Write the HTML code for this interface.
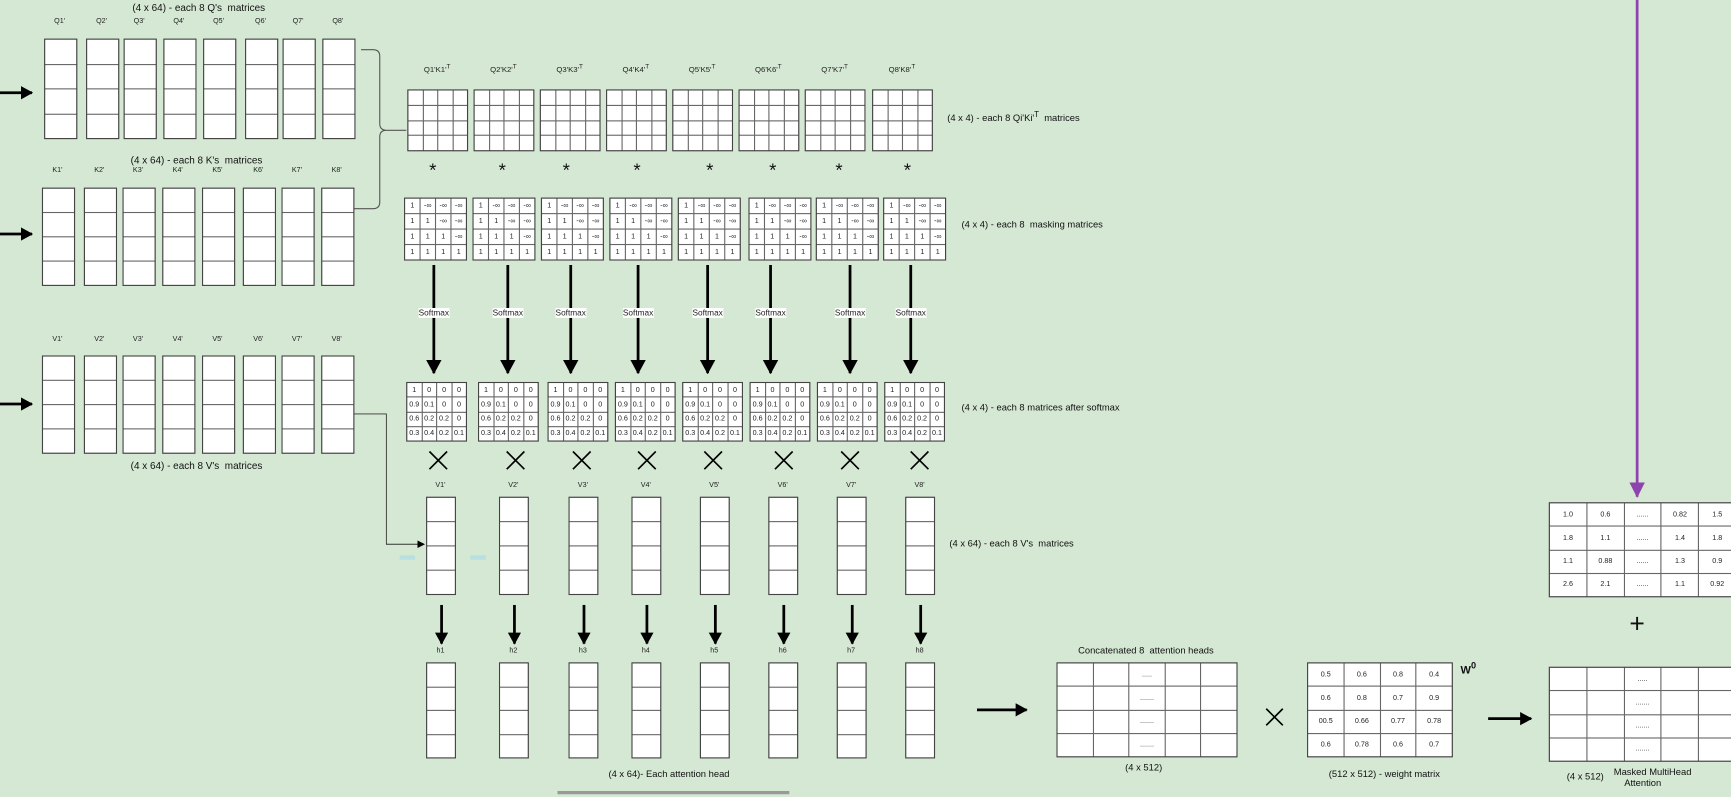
<!DOCTYPE html>
<html><head><meta charset="utf-8"><style>
html,body{margin:0;padding:0;width:1731px;height:797px;overflow:hidden;background:#d5e8d4;font-family:"Liberation Sans",sans-serif}
#w{position:absolute;left:0;top:0;width:1568px;height:722px;transform:scale(1.10395);transform-origin:0 0}
.b{position:absolute;background:#666;border:1px solid #444;box-sizing:border-box;display:grid;gap:1px}
.b div{background:#fff;font-size:6.5px;display:flex;align-items:center;justify-content:center;color:#222;overflow:hidden}
.t{position:absolute;font-size:9px;color:#111;white-space:nowrap}
.s{position:absolute;font-size:6.5px;color:#222;white-space:nowrap}
.sm{position:absolute;font-size:7.5px;color:#222;white-space:nowrap;background:#fff;line-height:9px}
svg{position:absolute;left:0;top:0}
</style></head><body><div id="w">
<svg width="1568" height="722" id="sv"><defs>
<marker id="ah" markerWidth="7" markerHeight="7" refX="6" refY="3.5" orient="auto" markerUnits="userSpaceOnUse"><path d="M0,0L7,3.5L0,7z" fill="#000"/></marker>
<marker id="ap" markerWidth="14" markerHeight="14" refX="13" refY="7" orient="auto" markerUnits="userSpaceOnUse"><path d="M0,0L14,7L0,14z" fill="#8e44ad"/></marker>
<marker id="as" markerWidth="11" markerHeight="12" refX="10" refY="6" orient="auto" markerUnits="userSpaceOnUse"><path d="M0,0L11,6L0,12z" fill="#000"/></marker>
<marker id="ab" markerWidth="13" markerHeight="14" refX="12" refY="7" orient="auto" markerUnits="userSpaceOnUse"><path d="M0,0L13,7L0,14z" fill="#000"/></marker>
</defs></svg>
</div>
<script>
var W=document.getElementById('w'),S=document.getElementById('sv');
function box(x,y,w,h,r,c,vals){var d=document.createElement('div');d.className='b';d.style.cssText+='left:'+x+'px;top:'+y+'px;width:'+w+'px;height:'+h+'px;grid-template-columns:repeat('+c+',1fr);grid-template-rows:repeat('+r+',1fr)';for(var i=0;i<r*c;i++){var e=document.createElement('div');e.textContent=vals?vals[i]:'';d.appendChild(e);}W.appendChild(d);}
function txt(x,y,s,cls,center,size){var d=document.createElement('div');d.className=cls||'t';d.innerHTML=s;d.style.left=x+'px';d.style.top=y+'px';if(center)d.style.transform='translateX(-50%)';if(size)d.style.fontSize=size+'px';W.appendChild(d);}
function ln(x1,y1,x2,y2,sw,col,m){var l=document.createElementNS('http://www.w3.org/2000/svg','line');l.setAttribute('x1',x1);l.setAttribute('y1',y1);l.setAttribute('x2',x2);l.setAttribute('y2',y2);l.setAttribute('stroke',col||'#000');l.setAttribute('stroke-width',sw||2);if(m)l.setAttribute('marker-end','url(#'+m+')');S.appendChild(l);}
function path(d,sw,col,m){var p=document.createElementNS('http://www.w3.org/2000/svg','path');p.setAttribute('d',d);p.setAttribute('fill','none');p.setAttribute('stroke',col||'#000');p.setAttribute('stroke-width',sw||1);if(m)p.setAttribute('marker-end','url(#'+m+')');S.appendChild(p);}
txt(180,2,"(4 x 64) - each 8 Q's&nbsp; matrices",'t',1);
var qx=[40,78,112,148,184,222,256,292];
qx.forEach(function(x,i){txt(x+14,16,'Q'+(i+1)+"'",'s',1);box(x,35,30,91,4,1);});
txt(178,140,"(4 x 64) - each 8 K's&nbsp; matrices",'t',1);
var kx=[38,76,111,147,183,220,255,291];
kx.forEach(function(x,i){txt(x+14,151,'K'+(i+1)+"'",'s',1);box(x,170,30,89,4,1);});
kx.forEach(function(x,i){txt(x+14,304,'V'+(i+1)+"'",'s',1);box(x,322,30,89,4,1);});
txt(178,417,"(4 x 64) - each 8 V's&nbsp; matrices",'t',1);
ln(0,84,29,84,2.5,'#000','as');ln(0,212,29,212,2.5,'#000','as');ln(0,366,29,366,2.5,'#000','as');
path('M327,45 L338,45 Q344,45 344,51 L344,112 Q344,118 350,118 L368,118 M350,118 Q344,118 344,124 L344,183 Q344,189 338,189 L320,189',1,'#555');
var qk=[369,429,489,549,609,669,729,790];
qk.forEach(function(x,i){txt(x+27,58,'Q'+(i+1)+"'K"+(i+1)+"'<sup>T</sup>",'s',1,7);box(x,81,55,56,4,4);});
txt(858,100,"(4 x 4) - each 8 Qi'Ki'<sup>T</sup>&nbsp; matrices",'t',0,8.5);
var st=[392,455,513,577,643,700,760,822];
st.forEach(function(x){txt(x,145,'*','t',1,17);});
var mk=[366,428,490,552,614,678,739,800],I='-∞';
var mv=['1',I,I,I,'1','1',I,I,'1','1','1',I,'1','1','1','1'];
mk.forEach(function(x){box(x,179,57,57,4,4,mv);});
txt(871,198,"(4 x 4) - each 8&nbsp; masking matrices",'t',0,8.5);
var sa=[393,460,517,578,641,698,770,825];
sa.forEach(function(x){ln(x,240,x,338,2.5,'#000','ab');txt(x,279,'Softmax','sm',1);});
var sm=[368,433,496,557,618,679,740,801];
var sv=['1','0','0','0','0.9','0.1','0','0','0.6','0.2','0.2','0','0.3','0.4','0.2','0.1'];
sm.forEach(function(x){box(x,346,55,54,4,4,sv);});
txt(871,364,"(4 x 4) - each 8 matrices after softmax",'t',0,8.5);
var xx=[397,467,527,586,646,710,770,833];
xx.forEach(function(x){path('M'+(x-8)+',409 L'+(x+8)+',425 M'+(x+8)+',409 L'+(x-8)+',425',1.5);});
var vx=[386,452,515,572,634,696,758,820];
vx.forEach(function(x,i){txt(x+13,436,'V'+(i+1)+"'",'s',1);box(x,450,27,89,4,1);ln(x+14,548,x+14,583,2.5,'#000','as');txt(x+13,586,'h'+(i+1),'s',1);box(x,600,27,87,4,1);});
txt(860,487,"(4 x 64) - each 8 V's&nbsp; matrices",'t',0,8.5);
path('M320,375 L350,375 L350,493 L384,493',0.8,'#333','ah');
path('M362,505 L376,505 M426,505 L440,505',4,'#b8e0e0');
txt(606,696,"(4 x 64)- Each attention head",'t',1,8.5);
ln(505,718,715,718,3,'#999');
ln(885,643,930,643,2.5,'#000','as');
txt(1038,584,"Concatenated 8&nbsp; attention heads",'t',1,8.5);
var dv=['','','.....','','','','','.......','','','','','.......','','','','','.......','',''];
box(957,600,164,86,4,5,dv);
txt(1036,690,"(4 x 512)",'t',1,8.5);
path('M1147,642 L1162,657 M1162,642 L1147,657',1.5);
box(1184,600,132,86,4,4,['0.5','0.6','0.8','0.4','0.6','0.8','0.7','0.9','00.5','0.66','0.77','0.78','0.6','0.78','0.6','0.7']);
txt(1323,598,"<b>W<sup>0</sup></b>",'t',0,10);
txt(1254,696,"(512 x 512) - weight matrix",'t',1,8.5);
ln(1348,651,1387,651,2.5,'#000','as');
box(1403,604,170,86,4,5,dv);
txt(1436,698,"(4 x 512)",'t',1,8.5);
txt(1497,694,"Masked MultiHead<br>&nbsp;&nbsp;&nbsp;&nbsp;Attention",'t',1,8.5);
box(1403,455,170,86,4,5,['1.0','0.6','......','0.82','1.5','1.8','1.1','......','1.4','1.8','1.1','0.88','......','1.3','0.9','2.6','2.1','......','1.1','0.92']);
ln(1483,0,1483,450,2.5,'#8e44ad','ap');
txt(1483,552,'+','t',1,24);
</script>
</body></html>
